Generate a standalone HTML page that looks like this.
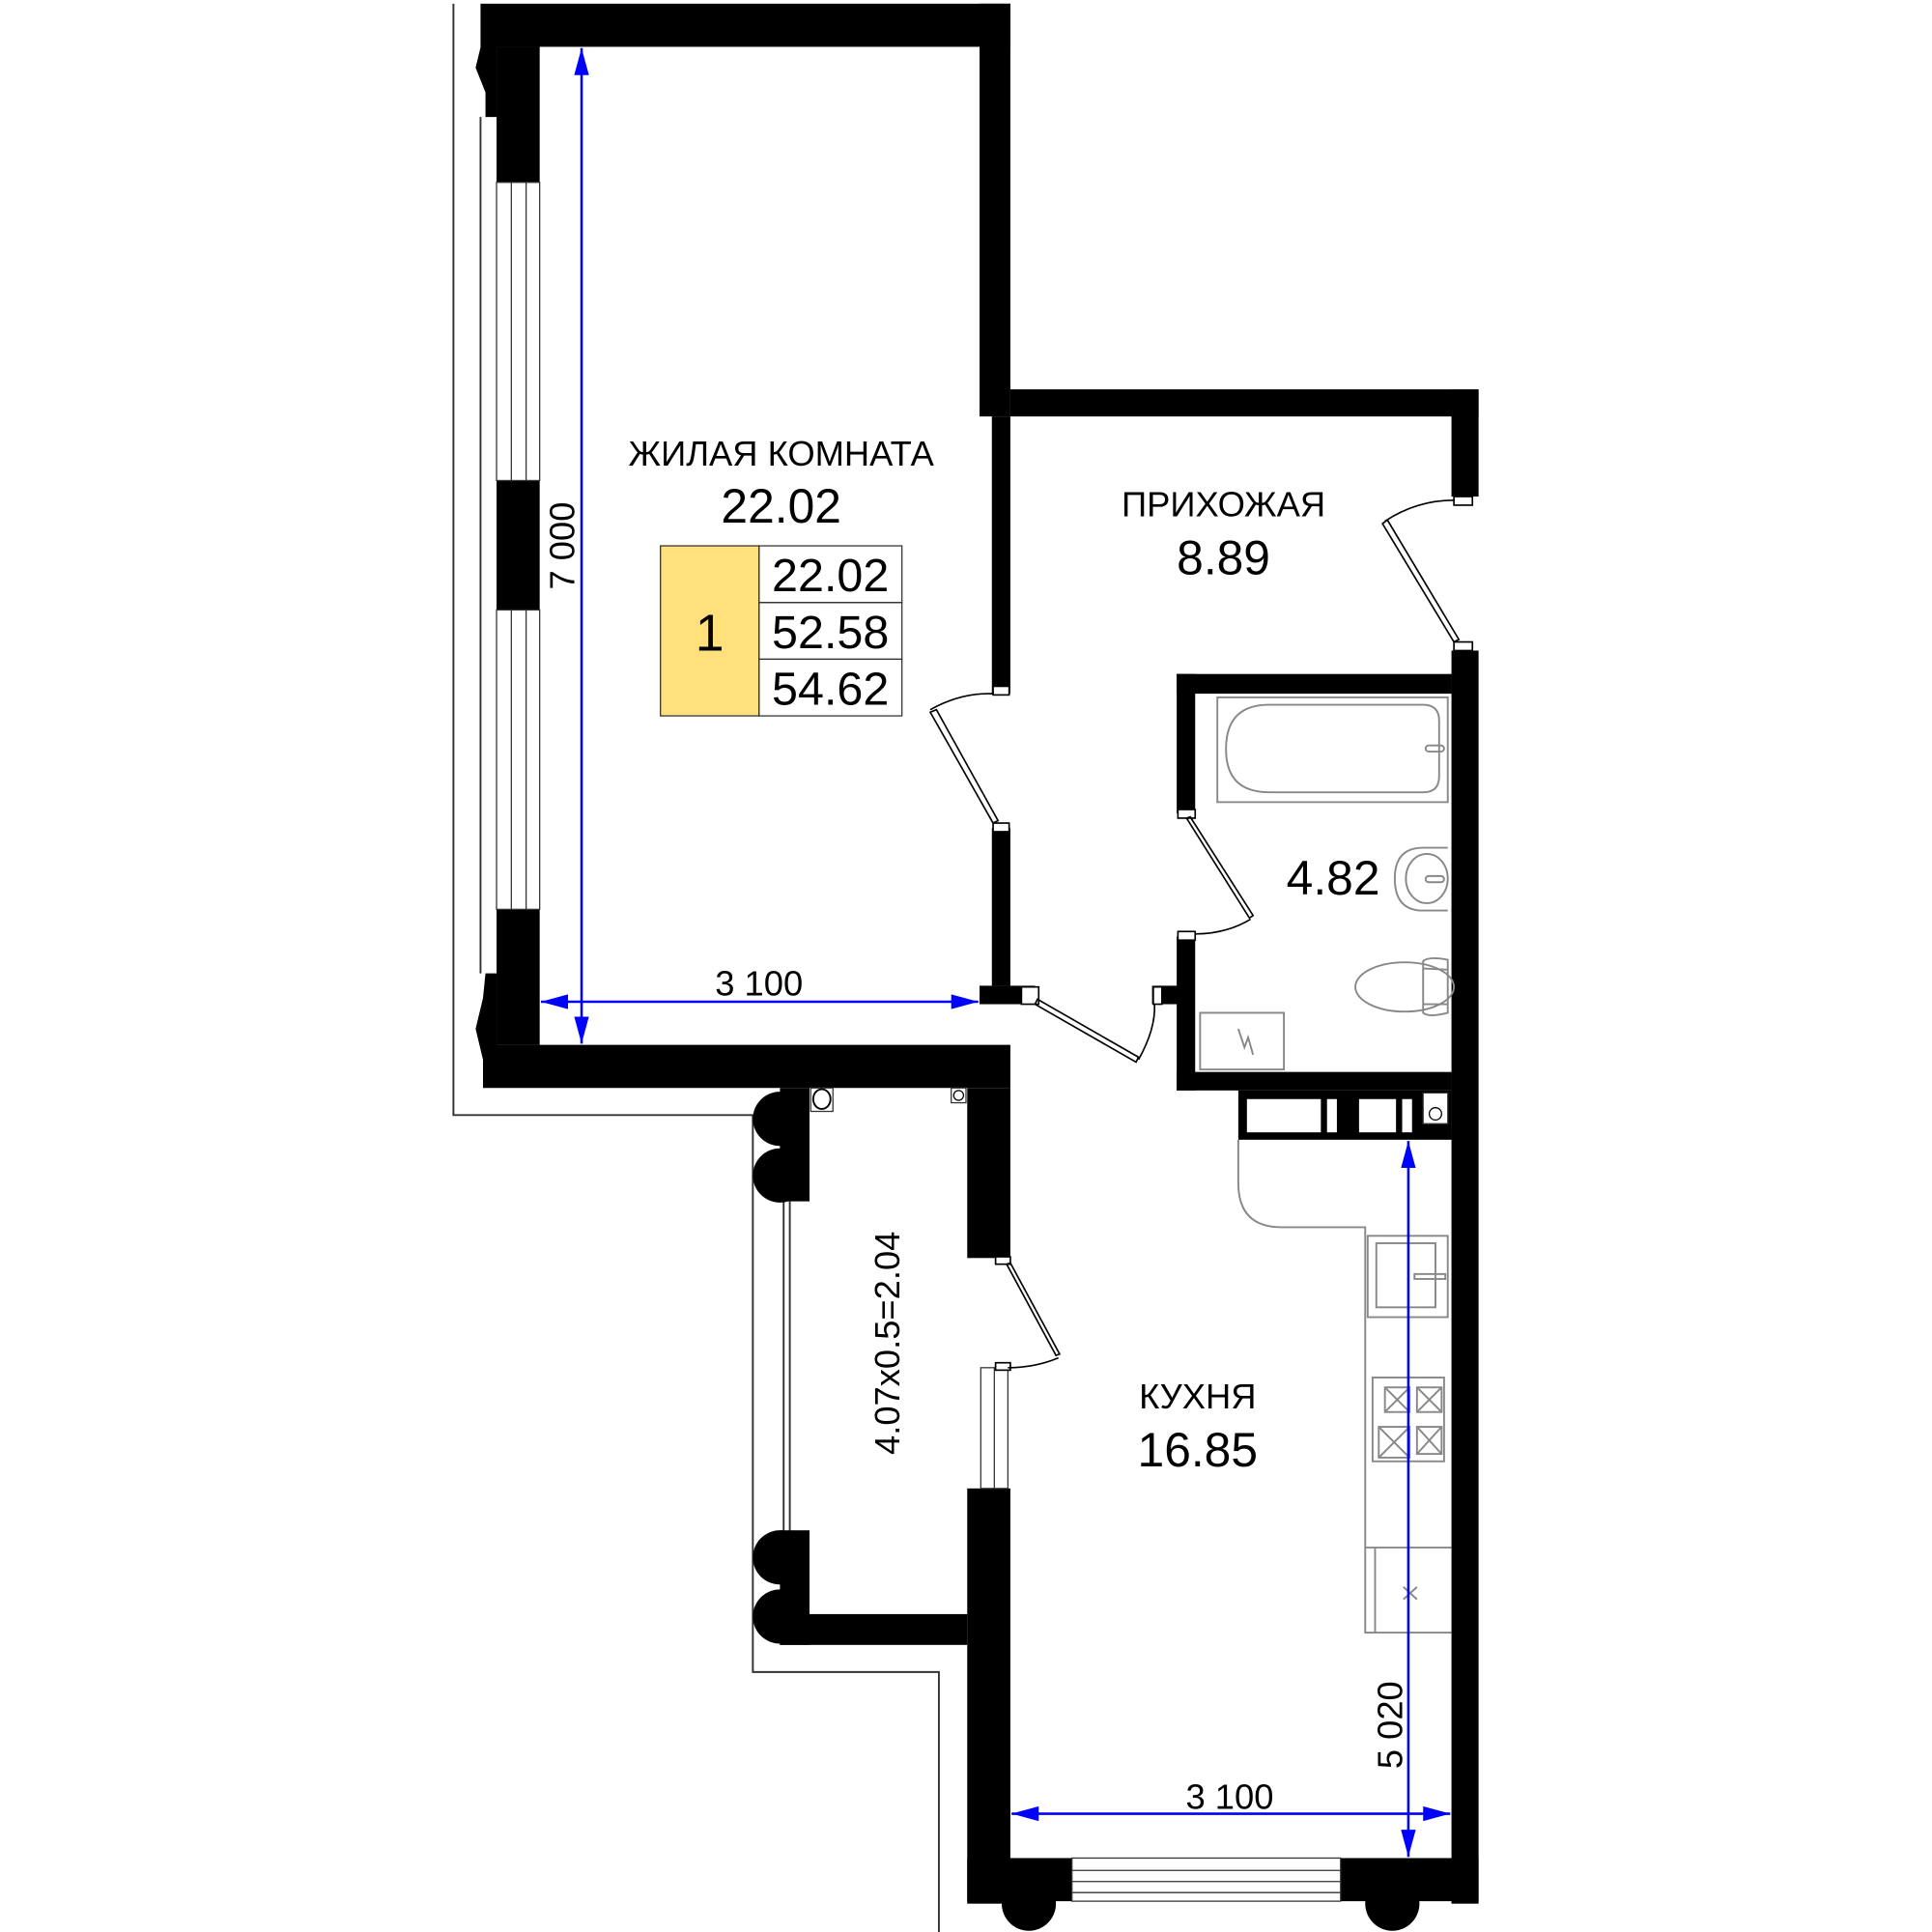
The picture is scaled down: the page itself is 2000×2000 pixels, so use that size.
<!DOCTYPE html>
<html><head><meta charset="utf-8"><style>
html,body{margin:0;padding:0;background:#fff}
svg{display:block}
text{font-family:"Liberation Sans",sans-serif;fill:#000}
</style></head><body>
<svg width="2000" height="2000" viewBox="0 0 1568 1568" xmlns="http://www.w3.org/2000/svg">
<defs>
<marker id="ar" viewBox="0 0 22 12" refX="22" refY="6" markerWidth="22" markerHeight="12" orient="auto-start-reverse" markerUnits="userSpaceOnUse"><path d="M0,0 L22,6 L0,12 z" fill="#00f"/></marker>
</defs>
<rect width="1568" height="1568" fill="#fff"/>
<g fill="none" stroke="#333" stroke-width="1.5">
<polyline points="368,3 368,905 612,905"/>
<polyline points="390,95 390,790"/>
<polyline points="611,905 611,1357 762,1357 762,1568"/>
<line x1="636" y1="975" x2="636" y2="1245"/>
<line x1="641" y1="975" x2="641" y2="1245"/>
</g>
<g fill="#000">
<rect x="390" y="3" width="430" height="35"/>
<rect x="795" y="3" width="25" height="335"/>
<path d="M392,5 L403,5 L403,95 L394,95 L394,75 L386,55 L392,30 Z"/>
<rect x="403" y="38" width="35" height="110"/>
<rect x="403" y="390" width="35" height="105"/>
<rect x="403" y="738" width="35" height="110"/>
<path d="M390,848 L820,848 L820,883 L392,883 L392,860 L386,835 L392,810 L394,790 L403,790 L403,848 Z"/>
<rect x="805" y="338" width="15" height="225"/>
<rect x="805" y="672" width="15" height="128"/>
<rect x="795" y="800" width="45" height="15"/>
<rect x="820" y="316" width="380" height="22"/>
<rect x="1178" y="316" width="22" height="87"/>
<rect x="1178" y="528" width="22" height="1017"/>
<rect x="955" y="547" width="223" height="16"/>
<rect x="955" y="547" width="15" height="113"/>
<rect x="955" y="760" width="15" height="125"/>
<rect x="935" y="800" width="22" height="15"/>
<rect x="955" y="870" width="223" height="15"/>
<rect x="1005" y="885" width="173" height="40"/>
<rect x="785" y="883" width="35" height="138"/>
<rect x="785" y="1208" width="35" height="337"/>
<rect x="785" y="1508" width="85" height="35"/>
<rect x="1088" y="1508" width="112" height="35"/>
<circle cx="835" cy="1545" r="22"/>
<circle cx="1130" cy="1545" r="22"/>
<rect x="633" y="883" width="24" height="92"/>
<circle cx="633" cy="908" r="22"/>
<circle cx="633" cy="954" r="22"/>
<rect x="633" y="1242" width="24" height="93"/>
<circle cx="633" cy="1264" r="22"/>
<circle cx="633" cy="1312" r="22"/>
<rect x="633" y="1310" width="152" height="25"/>
</g>
<g fill="#fff" stroke="#333" stroke-width="1">
<rect x="403" y="148" width="35" height="242"/>
<rect x="403" y="495" width="35" height="243"/>
<rect x="870" y="1508" width="218" height="35"/>
<rect x="796" y="1110" width="22" height="98"/>
</g>
<g stroke="#333" stroke-width="1">
<line x1="415" y1="148" x2="415" y2="390"/><line x1="427" y1="148" x2="427" y2="390"/>
<line x1="415" y1="495" x2="415" y2="738"/><line x1="427" y1="495" x2="427" y2="738"/>
<line x1="870" y1="1518" x2="1088" y2="1518"/><line x1="870" y1="1527" x2="1088" y2="1527"/><line x1="870" y1="1536" x2="1088" y2="1536"/>
<line x1="807" y1="1110" x2="807" y2="1208"/>
</g>
<g fill="#fff">
<rect x="1012" y="892" width="60" height="27"/><rect x="1077" y="892" width="8" height="27"/>
<rect x="1103" y="892" width="30" height="27"/><rect x="1138" y="892" width="8" height="27"/>
<rect x="1155" y="887" width="20" height="25" stroke="#333"/>
</g>
<circle cx="1165" cy="904" r="5" fill="none" stroke="#000"/>
<rect x="658" y="883" width="18" height="19" fill="#fff" stroke="#333"/>
<ellipse cx="667" cy="892" rx="7" ry="8" fill="none" stroke="#000" stroke-width="1.5"/>
<rect x="772" y="883" width="12" height="12" fill="#fff" stroke="#333"/>
<circle cx="778" cy="889" r="4" fill="none" stroke="#000"/>
<g fill="none" stroke="#000" stroke-width="1.3">
<rect x="806" y="557" width="13" height="7" fill="#fff"/>
<rect x="806" y="668" width="13" height="7" fill="#fff"/>
<path d="M806,668 L755,578 L760,576 L810,666 Z"/>
<path d="M755,576 Q780,562 806,563"/>
<rect x="1180" y="403" width="15" height="7" fill="#fff"/>
<rect x="1180" y="521" width="15" height="7" fill="#fff"/>
<path d="M1180,521 L1122,425 L1126,422 L1184,519 Z"/>
<path d="M1124,423 Q1150,406 1180,406"/>
<rect x="956" y="657" width="14" height="7" fill="#fff"/>
<rect x="956" y="756" width="14" height="7" fill="#fff"/>
<path d="M963,664 L1014,745 L1017,743 L966,663 Z"/>
<path d="M1015,746 Q995,758 970,758"/>
<rect x="936" y="801" width="7" height="14" fill="#fff"/>
<rect x="829" y="801" width="14" height="14" fill="#fff"/>
<path d="M840,815 L922,862 L924,858 L842,811 Z"/>
<path d="M924,860 Q938,835 937,815"/>
<rect x="808" y="1020" width="12" height="6" fill="#fff"/>
<rect x="808" y="1106" width="12" height="6" fill="#fff"/>
<path d="M817,1026 L857,1100 L860,1099 L820,1025 Z"/>
<path d="M859,1102 Q840,1110 818,1110"/>
</g>
<g fill="none" stroke="#888" stroke-width="1.5">
<rect x="988" y="566" width="187" height="85"/>
<path d="M1030,572 L1155,572 Q1168,572 1168,585 L1168,630 Q1168,643 1155,643 L1030,643 Q995,643 995,608 Q995,572 1030,572 Z"/>
<rect x="1157" y="605" width="15" height="5" rx="2.5"/>
<path d="M1175,688 L1155,688 Q1132,688 1132,713 Q1132,739 1155,739 L1175,739"/>
<ellipse cx="1158" cy="713" rx="17" ry="20"/>
<rect x="1157" y="711" width="15" height="5" rx="2.5"/>
<rect x="974" y="822" width="68" height="46"/>
<path d="M1005,835 L1010,850 L1013,842 L1017,856"/>
<ellipse cx="1140" cy="801" rx="40" ry="20"/>
<path d="M1155,780 Q1160,776 1175,779 L1175,822 Q1160,826 1155,822 Z"/>
<line x1="1155" y1="786" x2="1175" y2="787"/><line x1="1155" y1="815" x2="1175" y2="815"/>
<path d="M1005,925 L1005,960 Q1005,996 1040,996 L1108,996 L1108,1325 L1178,1325"/>
<rect x="1110" y="1003" width="65" height="66"/>
<rect x="1117" y="1009" width="48" height="52"/>
<rect x="1148" y="1034" width="25" height="4"/>
<rect x="1114" y="1118" width="58" height="68"/>
<rect x="1124" y="1126" width="20" height="20"/><rect x="1150" y="1126" width="20" height="20"/>
<rect x="1119" y="1158" width="25" height="25"/><rect x="1150" y="1158" width="20" height="22"/>
<path d="M1124,1126 L1144,1146 M1144,1126 L1124,1146 M1150,1126 L1170,1146 M1170,1126 L1150,1146 M1119,1158 L1144,1183 M1144,1158 L1119,1183 M1150,1158 L1170,1180 M1170,1158 L1150,1180"/>
<line x1="1108" y1="1256" x2="1178" y2="1256"/>
<line x1="1116" y1="1256" x2="1116" y2="1325"/>
<path d="M1139,1288 L1150,1298 M1150,1288 L1139,1298"/>
</g>
<g stroke="#00f" stroke-width="2" fill="none">
<line x1="472" y1="39" x2="472" y2="847" marker-start="url(#ar)" marker-end="url(#ar)"/>
<line x1="439" y1="813" x2="794" y2="813" marker-start="url(#ar)" marker-end="url(#ar)"/>
<line x1="821" y1="1472" x2="1177" y2="1472" marker-start="url(#ar)" marker-end="url(#ar)"/>
<line x1="1143" y1="926" x2="1143" y2="1507" marker-start="url(#ar)" marker-end="url(#ar)"/>
</g>
<rect x="536" y="443" width="80" height="138" fill="#ffe07c" stroke="#333"/>
<g fill="none" stroke="#333"><rect x="616" y="443" width="116" height="46"/><rect x="616" y="489" width="116" height="46"/><rect x="616" y="535" width="116" height="46"/></g>
<text x="576" y="528" font-size="42" text-anchor="middle">1</text>
<text x="674" y="480" font-size="38" text-anchor="middle">22.02</text>
<text x="674" y="526" font-size="38" text-anchor="middle">52.58</text>
<text x="674" y="572" font-size="38" text-anchor="middle">54.62</text>
<text x="634" y="378" font-size="28.5" text-anchor="middle">ЖИЛАЯ КОМНАТА</text>
<text x="634" y="424" font-size="39" text-anchor="middle">22.02</text>
<text x="993" y="419" font-size="28.5" text-anchor="middle">ПРИХОЖАЯ</text>
<text x="993" y="466" font-size="39" text-anchor="middle">8.89</text>
<text x="1082" y="726" font-size="39" text-anchor="middle">4.82</text>
<text x="972" y="1143" font-size="28.5" text-anchor="middle">КУХНЯ</text>
<text x="972" y="1190" font-size="39" text-anchor="middle">16.85</text>
<text x="616" y="808" font-size="28.5" text-anchor="middle">3 100</text>
<text x="998" y="1468" font-size="28.5" text-anchor="middle">3 100</text>
<text transform="translate(466,443) rotate(-90)" font-size="28.5" text-anchor="middle">7 000</text>
<text transform="translate(1138,1400) rotate(-90)" font-size="28.5" text-anchor="middle">5 020</text>
<text transform="translate(730,1090) rotate(-90)" font-size="28.5" text-anchor="middle">4.07x0.5=2.04</text>
</svg>
</body></html>
